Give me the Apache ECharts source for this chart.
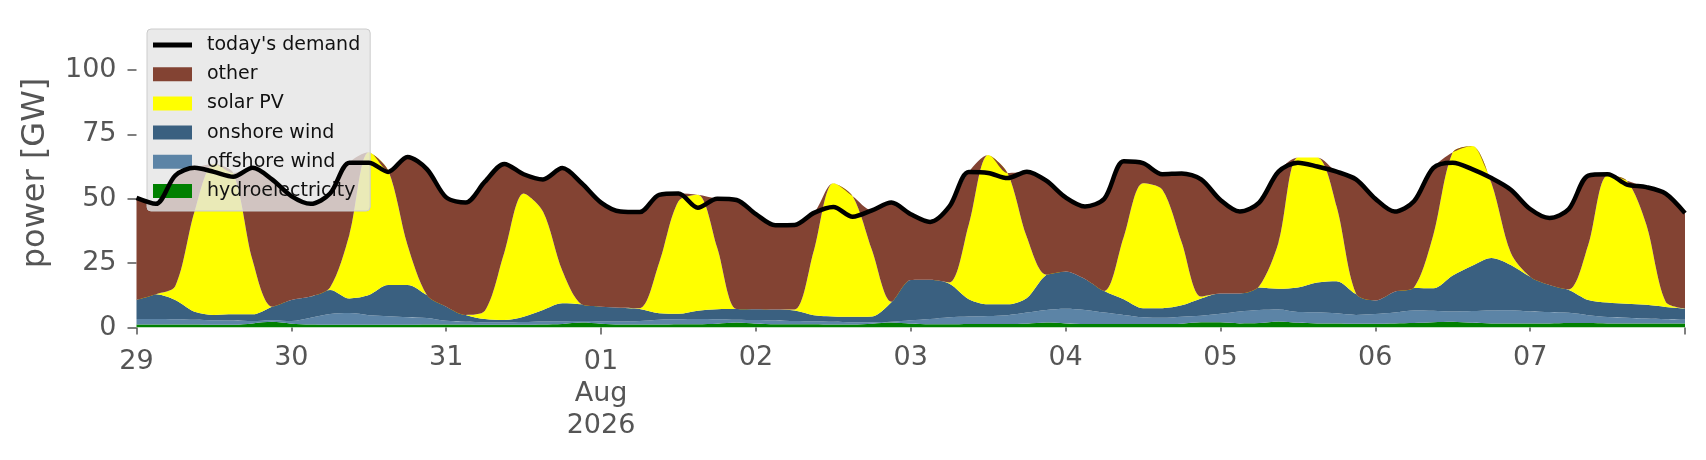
<!DOCTYPE html>
<html>
<head>
    <meta charset="utf-8">
    <title>power mix</title>
    <script src="https://cdn.jsdelivr.net/npm/echarts@6/dist/echarts.min.js"></script>
    <style>
        html, body {
            margin: 0;
            padding: 0;
            background: #ffffff;
        }
        #main {
            width: 1706px;
            height: 460px;
        }
    </style>
</head>
<body>
<div id="main"></div>
<script>
// 3-hourly samples, Jul 29 00:00 .. Aug 8 00:00 (hours from start), values in GW
var hours = [];
for (var i = 0; i <= 240; i += 3) hours.push(String(i));

var hydro = [1.2,1.2,1.2,1.2,1.1,1.1,1.6,2.2,1.5,1.2,
    1.1,1.1,1.1,1.1,1.1,1.2,1.2,1.2,1.1,1.1,
    1.1,1.2,1.4,1.9,1.5,1.2,1.2,1.2,1.3,1.3,
    1.5,1.9,1.5,1.3,1.3,1.3,1.2,1.2,1.5,1.9,
    1.5,1.3,1.3,1.4,1.4,1.4,1.5,1.9,1.6,1.4,
    1.4,1.4,1.4,1.4,1.5,2.0,2.0,1.6,1.7,2.3,
    1.8,1.6,1.6,1.5,1.5,1.6,1.7,2.0,2.2,1.8,
    1.6,1.6,1.6,1.6,1.7,1.7,1.6,1.6,1.6,1.6,
    1.6];

var offshore = [2.1,2.1,2.0,1.8,1.7,1.6,0.9,0.6,1.0,2.6,
    4.1,4.5,3.7,3.3,2.9,2.5,1.4,1.0,0.9,0.9,
    1.0,1.1,1.0,0.6,0.9,1.1,1.3,1.8,1.9,2.0,
    1.7,1.1,1.4,1.4,1.2,1.1,1.0,0.8,0.5,0.3,
    1.3,2.0,2.7,2.9,3.1,3.4,4.3,4.9,5.7,5.4,
    4.4,3.5,2.6,2.4,2.7,2.6,3.3,4.6,5.1,4.7,
    4.2,4.3,3.9,3.4,3.7,4.2,4.9,4.5,4.0,4.6,
    5.0,5.1,4.6,4.4,4.0,3.1,2.5,2.2,1.9,1.6,
    1.4];

var onshore = [7.4,9.6,7.5,3.1,2.1,2.4,2.6,5.3,8.2,8.2,
    9.4,5.7,7.8,12.1,12.5,8.9,5.5,2.7,1.3,0.9,
    2.1,4.5,7.0,6.5,5.7,5.4,4.7,2.5,2.1,3.2,
    3.9,4.2,4.2,4.3,4.1,2.4,2.1,2.2,2.3,7.6,
    15.6,15.2,13.0,6.7,4.5,4.2,5.7,13.6,14.4,12.0,
    8.4,6.1,3.5,3.7,4.4,6.7,7.9,7.0,8.7,8.0,
    9.5,11.6,12.5,8.1,5.3,8.1,8.7,8.7,14.0,17.6,
    20.4,17.6,13.5,10.5,8.9,5.9,5.6,5.4,5.3,4.8,
    4.4];

var solar = [0,0,5.3,38.9,58.6,54.9,20.9,0,0,0,
    0.9,24.7,55.4,44.5,15.5,0,0,0,3.2,26.1,
    47.8,38.2,12.6,0,0,0,0.3,19.5,43.7,45,
    23.9,0,0,0,0.4,25.2,51.7,46.8,25.7,0.2,
    0,0,0.5,29,58,51,23.5,0.1,0,0,
    0,24,48.5,46,24.4,0.7,0,0,0.5,18,
    50.5,48.5,29,0.2,0,0,0.2,20.8,47.8,46.5,
    29,4.7,0,0,0.2,21.3,49.3,47.8,31.2,2,
    0];

var other = [39.6,35.1,43,17,0,0,36,49.4,40.3,36,
    36.5,28,0,0,34.2,48.9,42.4,43.6,50.1,34.5,
    7.5,12.5,39.9,47,40.4,37.3,37.3,26.5,3,0,
    19,42.3,36.9,32.7,32.8,14.5,0,0,15.5,38.5,
    25.6,22.5,29.5,20.4,0,0,25.5,36.5,28.8,28.2,
    35.8,29.5,7.8,6,26.8,45.5,36.3,31.8,32.5,27.5,
    0,0,13.5,44.3,39.5,31.1,33.5,26,0,0,
    2,24.5,26.3,26,31.2,27,0.5,0,14.5,42,
    37];

var demand = [50.3,48,59,62,60.4,58.5,62,57.5,51,48,
    52,64,64,60.4,66.2,61.5,50.5,48.5,56.6,63.5,
    59.5,57.5,61.9,56,48.5,45,44.8,51.5,52,46.5,
    50,49.5,44,39.7,39.8,44.5,46.8,43,45.5,48.5,
    44,41,47,60.4,60,58,60.5,57,50.5,47,
    50,64.5,63.8,59.5,59.8,57.5,49.5,45,48.5,60.5,
    64,62.5,60.5,57.5,50,45,49,62,64,61.5,
    58,53.5,46,42.5,46,59,59.5,55.5,54.5,52,
    44.4];

// axis labels: one per day (every 8th sample)
var dayLabels = ['29', '30', '31', '01', '02', '03', '04', '05', '06', '07', '08'];
var monthLabel = 'Aug';
var yearLabel = '2026';
var majorTickIdx = [0, 24, 80];     // sample index of the longer ticks
var majorLabelIdx = [0, 24];
var yTicks = [0, 25, 50, 75, 100];

var grey = '#555555';
var font = 'DejaVu Sans';

function isMinor(i) { return i % 8 === 0 && majorTickIdx.indexOf(i) < 0; }

function areaSeries(name, arr, color) {
    return {
        name: name,
        type: 'line',
        stack: 'mix',
        data: arr,
        smooth: 0.3,
        symbol: 'none',
        lineStyle: { width: 0 },
        itemStyle: { color: color },
        areaStyle: { color: color, opacity: 1 }
    };
}

var myChart = echarts.init(document.getElementById('main'));

var option = {
    animation: false,
    backgroundColor: '#ffffff',
    textStyle: { fontFamily: font },
    grid: { left: 136.5, right: 21, top: 18.4, bottom: 132.5 },
    xAxis: [{
        type: 'category', data: hours, boundaryGap: false,
        axisLine: { show: false }, splitLine: { show: false },
        axisTick: { show: true, length: 4, interval: isMinor,
            lineStyle: { color: grey, width: 1.5 } },
        axisLabel: { interval: isMinor, color: grey, fontSize: 27,
            fontFamily: font, margin: 14.5, lineHeight: 32,
            formatter: function (v, i) { return dayLabels[i / 8]; } }
    }, {
        // second axis only carries the longer ticks and the month/year labels
        type: 'value', min: 0, max: hours.length - 1, position: 'bottom',
        axisLine: { show: false }, splitLine: { show: false },
        axisTick: { show: true, length: 7, customValues: majorTickIdx,
            lineStyle: { color: grey, width: 1.5 } },
        axisLabel: { customValues: majorLabelIdx, color: grey, fontSize: 27,
            fontFamily: font, margin: 18.5, lineHeight: 32,
            formatter: function (v) {
                var d = dayLabels[Math.round(v / 8)];
                return v === 24 ? d + '\n' + monthLabel + '\n' + yearLabel : d;
            } }
    }],
    yAxis: {
        type: 'value', min: 0, max: 120, interval: 25,
        name: 'power [GW]', nameLocation: 'middle', nameGap: 85,
        nameTextStyle: { fontSize: 32, color: grey, fontFamily: font },
        axisLine: { show: false }, splitLine: { show: false },
        axisTick: { show: true, length: 9, customValues: yTicks,
            lineStyle: { color: grey, width: 1.5 } },
        axisLabel: { customValues: yTicks, color: grey, fontSize: 27,
            fontFamily: font, margin: 20 }
    },
    legend: {
        orient: 'vertical', left: 147, top: 29,
        itemWidth: 39, itemHeight: 14, itemGap: 9.2,
        padding: [6, 10, 10, 6],
        backgroundColor: 'rgba(229,229,229,0.8)',
        borderColor: '#cccccc', borderWidth: 1, borderRadius: 4,
        textStyle: { fontSize: 19, color: '#111111', fontFamily: font,
            lineHeight: 20, padding: [0, 0, 0, 10] },
        data: [
            { name: "today's demand", icon: 'path://M0,0H40V5H0Z' },
            { name: 'other', icon: 'rect' },
            { name: 'solar PV', icon: 'rect' },
            { name: 'onshore wind', icon: 'rect' },
            { name: 'offshore wind', icon: 'rect' },
            { name: 'hydroelectricity', icon: 'rect' }
        ]
    },
    series: [
        areaSeries('hydroelectricity', hydro, '#008000'),
        areaSeries('offshore wind', offshore, '#5c84a6'),
        areaSeries('onshore wind', onshore, '#3a6080'),
        areaSeries('solar PV', solar, '#ffff00'),
        areaSeries('other', other, '#834333'),
        {
            name: "today's demand",
            type: 'line',
            data: demand,
            smooth: 0.3,
            symbol: 'none',
            z: 5,
            itemStyle: { color: '#000000' },
            lineStyle: { color: '#000000', width: 4.5 }
        }
    ]
};

myChart.setOption(option);
</script>
</body>
</html>
